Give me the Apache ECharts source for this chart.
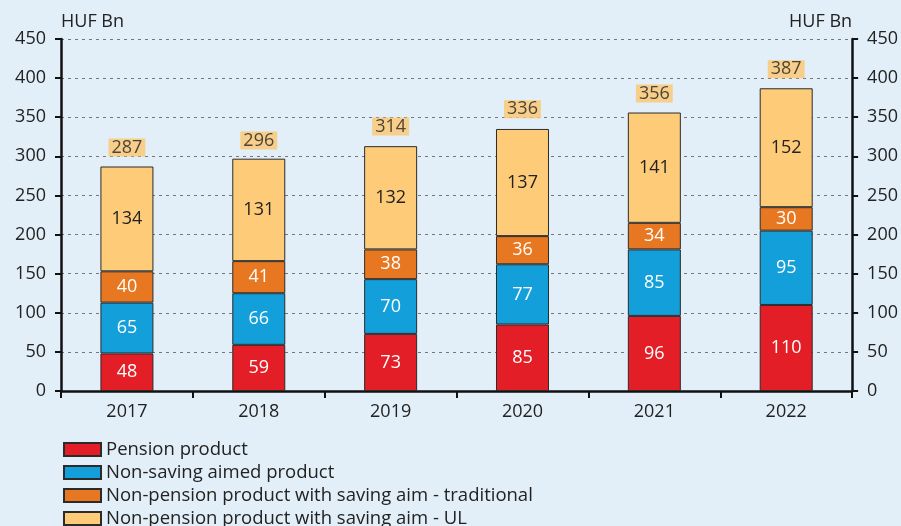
<!DOCTYPE html>
<html>
<head>
<meta charset="utf-8">
<script src="https://cdn.jsdelivr.net/npm/echarts@6/dist/echarts.min.js"></script>
<style>
  html, body { margin: 0; padding: 0; background: #e2eff8; }
  #chart { width: 901px; height: 526px; }
</style>
</head>
<body>
<div id="chart"></div>
<script>
const years = ['2017', '2018', '2019', '2020', '2021', '2022'];
const pension = [48, 59, 73, 85, 96, 110];
const nonSaving = [65, 66, 70, 77, 85, 95];
const traditional = [40, 41, 38, 36, 34, 30];
const unitLinked = [134, 131, 132, 137, 141, 152];
const totals = [287, 296, 314, 336, 356, 387];

const font = '"Open Sans", Lato, sans-serif';

const chart = echarts.init(document.getElementById('chart'));

const barSeries = (name, data, color, labelColor) => ({
  name,
  type: 'bar',
  stack: 'total',
  barWidth: 53,
  data,
  itemStyle: { color, borderColor: '#2b2b2b', borderWidth: 1 },
  label: {
    show: true,
    position: 'inside',
    color: labelColor,
    fontSize: 18,
    fontFamily: font,
  },
});

const yAxisBase = {
  type: 'value',
  min: 0,
  max: 450,
  interval: 50,
  name: 'HUF Bn',
  nameGap: 8,
  axisLine: { show: true, lineStyle: { color: '#111', width: 2.5 } },
  axisTick: { show: true, length: 6, lineStyle: { color: '#111', width: 2 } },
  axisLabel: { color: '#222', fontSize: 18, fontFamily: font, margin: 15 },
};

chart.setOption({
  backgroundColor: '#e2eff8',
  animation: false,
  grid: { left: 61, right: 48, top: 39, bottom: 135 },
  legend: {
    orient: 'vertical',
    left: 58,
    top: 440,
    height: 90,
    itemWidth: 37,
    itemHeight: 13,
    itemGap: 4,
    icon: 'rect',
    padding: [0, 5],
    textStyle: { color: '#222', fontSize: 18.5, lineHeight: 18.5, fontFamily: font },
    data: [
      'Pension product',
      'Non-saving aimed product',
      'Non-pension product with saving aim - traditional',
      'Non-pension product with saving aim - UL',
    ],
  },
  xAxis: {
    type: 'category',
    data: years,
    axisLine: { lineStyle: { color: '#111', width: 2.5 } },
    axisTick: { show: true, length: 7, lineStyle: { color: '#111', width: 2 } },
    axisLabel: { color: '#222', fontSize: 18, fontFamily: font, margin: 12 },
  },
  yAxis: [
    Object.assign({}, yAxisBase, {
      position: 'left',
      nameTextStyle: { color: '#222', fontSize: 18, fontFamily: font, align: 'left' },
      splitLine: { show: true, lineStyle: { color: '#777', type: [3, 4], width: 1 } },
    }),
    Object.assign({}, yAxisBase, {
      position: 'right',
      nameTextStyle: { color: '#222', fontSize: 18, fontFamily: font, align: 'right' },
      splitLine: { show: false },
    }),
  ],
  series: [
    barSeries('Pension product', pension, '#e31e26', '#fff'),
    barSeries('Non-saving aimed product', nonSaving, '#139fda', '#fff'),
    barSeries('Non-pension product with saving aim - traditional', traditional, '#e87722', '#fff'),
    barSeries('Non-pension product with saving aim - UL', unitLinked, '#fecc78', '#222'),
    {
      name: 'Total',
      type: 'scatter',
      data: totals,
      symbolSize: 0,
      silent: true,
      label: {
        show: true,
        position: 'top',
        distance: 10,
        color: '#222',
        fontSize: 18,
        fontFamily: font,
        backgroundColor: '#fdc76f',
        padding: [0, 3, 0, 3],
      },
    },
  ],
});
</script>
</body>
</html>
